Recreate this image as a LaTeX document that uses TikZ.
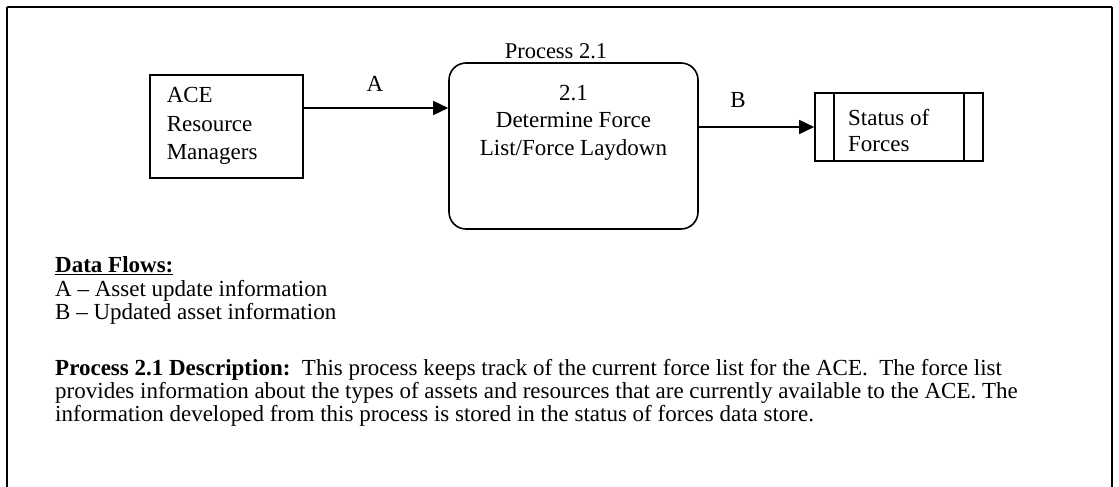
\documentclass[tikz,border=0pt]{standalone}
\usepackage{fontspec}
\setmainfont{Liberation Serif}
\usetikzlibrary{arrows.meta}
\begin{document}
\begin{tikzpicture}[x=1pt,y=-1pt,
  every node/.style={inner sep=0pt, font=\fontsize{23}{28.5}\selectfont},
  txt/.style={anchor=base west},
  entity/.style={draw, line width=1.6pt, align=left, text width=119pt, inner xsep=17pt, minimum height=103pt, anchor=north west},
  procbox/.style={draw, line width=1.6pt, rounded corners=17pt, minimum width=249pt, minimum height=166pt},
  storebox/.style={draw, line width=1.6pt, minimum width=168pt, minimum height=68pt},
  flow/.style={-{Triangle[length=15pt,width=14pt]}, line width=1.6pt},
  frame/.style={line width=2.4pt}]
\useasboundingbox (0,0) rectangle (1119,487);

% outer frame (open at the bottom)
\draw[frame] (7,487) -- (7,7);
\draw[line width=1.4pt] (7,7) -- (1112,7);
\draw[frame] (1112,7) -- (1112,487);

% external entity
\node[entity] (ace) at (149,74) {ACE\\Resource\\Managers};

% process
\node[procbox] (p) at (573.5,146) {};
\node[anchor=base, font=\fontsize{22.5}{27}\selectfont] (plabel) at (556,59) {Process 2.1};
\node[anchor=north, align=center, font=\fontsize{23}{27.5}\selectfont] (ptext) at (573.5,85) {2.1\\Determine Force\\List/Force Laydown};

% data store
\node[storebox] (st) at (899,127) {};
\draw[line width=1.6pt] ([xshift=20pt]st.north west) -- ([xshift=20pt]st.south west);
\draw[line width=1.6pt] ([xshift=-20pt]st.north east) -- ([xshift=-20pt]st.south east);
\node[anchor=north west, align=left, font=\fontsize{23}{26}\selectfont] (sttext) at (848,109) {Status of\\Forces};

% flows
\draw[flow] (ace.east |- 0,108) -- (p.west |- 0,108);
\node[anchor=base] (la) at (375,92) {A};
\draw[flow] (p.east |- st.west) -- (st.west);
\node[anchor=base] (lb) at (738,107) {B};

% data flows legend
\node[txt] (df0) at (55,272) {\textbf{\underline{Data Flows:}}};
\node[txt] (df1) at (55,296) {A -- Asset update information};
\node[txt] (df2) at (55,319) {B -- Updated asset information};

% description
\node[txt] (d1) at (55,375) {\textbf{Process 2.1 Description:}\ \ This process keeps track of the current force list for the ACE.\ \ The force list};
\node[txt] (d2) at (55,398) {provides information about the types of assets and resources that are currently available to the ACE. The};
\node[txt] (d3) at (55,421) {information developed from this process is stored in the status of forces data store.};
\end{tikzpicture}
\end{document}
